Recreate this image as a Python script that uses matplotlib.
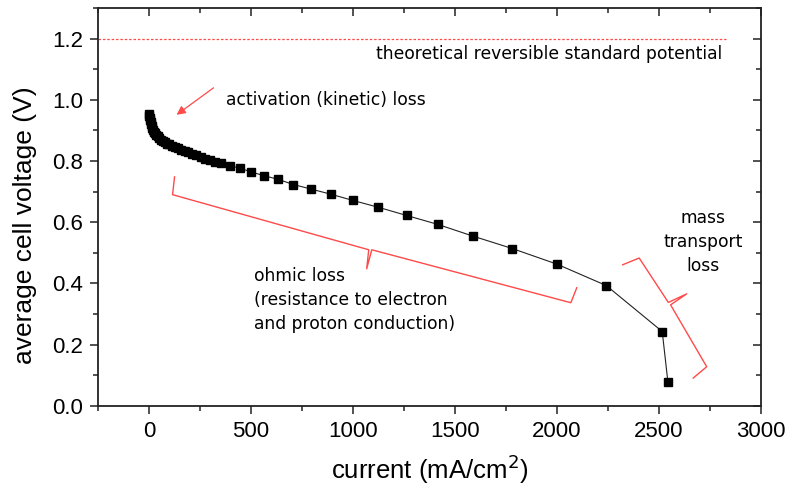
import numpy as np
import matplotlib.pyplot as plt
from matplotlib.ticker import MultipleLocator

# polarization curve
current = [0, 2, 4, 6, 8, 10, 13, 16, 20, 25, 30, 36, 43, 50, 58, 67, 77, 88,
           100, 113, 127, 142, 158, 175, 193, 212, 232, 253, 276, 300, 325, 352,
           398, 448, 501, 564, 633, 708, 796, 894, 1000, 1123, 1263, 1415, 1586,
           1781, 2000, 2242, 2516, 2544]
voltage = [0.953, 0.946, 0.940, 0.934, 0.928, 0.922, 0.915, 0.909, 0.902, 0.896,
           0.890, 0.885, 0.880, 0.875, 0.870, 0.866, 0.861, 0.857, 0.854, 0.850,
           0.846, 0.842, 0.837, 0.832, 0.828, 0.823, 0.818, 0.813, 0.808, 0.803,
           0.798, 0.792, 0.784, 0.776, 0.764, 0.752, 0.740, 0.723, 0.708, 0.691,
           0.671, 0.649, 0.622, 0.593, 0.555, 0.514, 0.463, 0.393, 0.243, 0.077]

E_rev = 1.2
E_rev_span = [-250, 2830]

# brace outlines (annotation shapes)
ohmic_x = [125, 115, 1077, 1067, 1092, 2068, 2097]
ohmic_y = [0.748, 0.690, 0.510, 0.448, 0.510, 0.337, 0.386]
mass_x = [2322, 2403, 2546, 2636, 2557, 2734, 2668]
mass_y = [0.461, 0.483, 0.338, 0.366, 0.330, 0.128, 0.091]

red = '#ff4a4a'
tick_font = 'Liberation Sans'
note_font = 'DejaVu Sans'
fs_note = 12.3

fig = plt.figure(figsize=(7.91, 4.95), dpi=100)
ax = fig.add_axes([0.124, 0.180, 0.838, 0.804])

ax.plot(E_rev_span, [E_rev, E_rev], color=red, lw=0.9, ls=(0, (2, 1.5)))
ax.plot(current, voltage, color='#222222', lw=0.8, marker='s', ms=6,
        mfc='black', mec='black', zorder=3)

ax.plot(ohmic_x, ohmic_y, color=red, lw=1.0)
ax.plot(mass_x, mass_y, color=red, lw=1.0)

ax.annotate('', xy=(135, 0.951), xytext=(316, 1.039),
            arrowprops=dict(arrowstyle='-|>', color=red, lw=0.9,
                            mutation_scale=13, shrinkA=0, shrinkB=0))

ax.text(2808, 1.15, 'theoretical reversible standard potential', ha='right',
        va='center', fontsize=fs_note, family=note_font)
ax.text(375, 1.0, 'activation (kinetic) loss', ha='left', va='center',
        fontsize=fs_note, family=note_font)
ax.text(513, 0.455, 'ohmic loss\n(resistance to electron\nand proton conduction)',
        ha='left', va='top', fontsize=fs_note, family=note_font, linespacing=1.45)
ax.text(2717, 0.536, 'mass\ntransport\nloss', ha='center', va='center',
        fontsize=fs_note, family=note_font, linespacing=1.45)

ax.set_xlim(-250, 3000)
ax.set_ylim(0, 1.3)
ax.xaxis.set_major_locator(MultipleLocator(500))
ax.xaxis.set_minor_locator(MultipleLocator(250))
ax.yaxis.set_major_locator(MultipleLocator(0.2))
ax.yaxis.set_minor_locator(MultipleLocator(0.1))
ax.yaxis.set_major_formatter(plt.FormatStrFormatter('%.1f'))

ax.tick_params(which='major', direction='out', length=6, width=1.1,
               labelsize=16, color='#222222')
ax.tick_params(which='minor', direction='out', length=3.5, width=1.1,
               color='#222222')
ax.tick_params(axis='x', pad=5)
ax.tick_params(axis='y', pad=5)
for lab in ax.get_xticklabels() + ax.get_yticklabels():
    lab.set_family(tick_font)

for s in ax.spines.values():
    s.set_linewidth(1.3)
    s.set_color('#222222')

# inward ticks on the top and right frame
axt = ax.twiny()
axt.set_xlim(ax.get_xlim())
axt.xaxis.set_major_locator(MultipleLocator(500))
axt.xaxis.set_minor_locator(MultipleLocator(250))
axt.tick_params(which='both', direction='in', labeltop=False, color='#222222', width=1.1)
axt.tick_params(which='major', length=6)
axt.tick_params(which='minor', length=3.5)
axr = ax.twinx()
axr.set_ylim(ax.get_ylim())
axr.yaxis.set_major_locator(MultipleLocator(0.2))
axr.yaxis.set_minor_locator(MultipleLocator(0.1))
axr.tick_params(which='both', direction='in', labelright=False, color='#222222', width=1.1)
axr.tick_params(which='major', length=6)
axr.tick_params(which='minor', length=3.5)
for a in (axt, axr):
    for s in a.spines.values():
        s.set_visible(False)

ax.set_xlabel('current (mA/cm$^2$)', fontsize=18.5, family=tick_font, va='center')
ax.xaxis.set_label_coords(0.5, -0.158)
ax.set_ylabel('average cell voltage (V)', fontsize=19, family=tick_font, va='center')
ax.yaxis.set_label_coords(-0.110, 0.455)

fig.savefig('out.png', dpi=100)
